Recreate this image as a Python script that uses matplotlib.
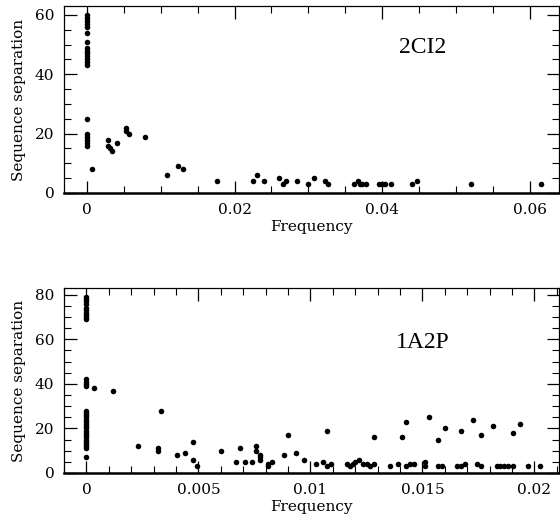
import matplotlib
matplotlib.use("Agg")
import matplotlib.pyplot as plt
from matplotlib.ticker import MultipleLocator, FuncFormatter

# 2CI2: contact frequency vs sequence separation
freq_2ci2 = [0.0] * 14 + [0.0] + [0.0] * 5 + [
    0.00076, 0.0029, 0.0029, 0.0032, 0.0034, 0.0041, 0.0053, 0.0053, 0.0057,
    0.0079, 0.0109, 0.0123, 0.0130, 0.0176, 0.0225, 0.0230, 0.0240, 0.0260,
    0.0265, 0.0270, 0.0284, 0.0300, 0.0308, 0.0323, 0.0326, 0.0362, 0.0367,
    0.0370, 0.0372, 0.0378, 0.0395, 0.0399, 0.0404, 0.0412, 0.0440, 0.0447,
    0.0520, 0.0614]
sep_2ci2 = [43, 44, 45, 46, 47, 48, 49, 51, 54, 56, 57, 58, 59, 60] + [25] + [16, 17, 18, 19, 20] + [
    8, 18, 16, 15, 14, 17, 22, 21, 20,
    19, 6, 9, 8, 4, 4, 6, 4, 5,
    3, 4, 4, 3, 5, 4, 3, 3, 4,
    3, 3, 3, 3, 3, 3, 3, 3, 4,
    3, 3]

# 1A2P: contact frequency vs sequence separation
sep_1a2p_zero = [69, 70, 71, 72, 73, 74, 76, 77, 78, 79,
                 39, 40, 41, 42,
                 11, 12, 13, 14, 15, 16, 17, 18, 19, 20, 21, 22, 23, 24, 25, 26, 27, 28,
                 7]
freq_1a2p_rest = [
    0.00034, 0.0012, 0.0023, 0.0032, 0.0032, 0.00334, 0.00406, 0.0044, 0.00476,
    0.00476, 0.00495, 0.00599, 0.0067, 0.00688, 0.00706, 0.0074, 0.00758, 0.00758,
    0.00776, 0.00776, 0.00776, 0.0081, 0.0081, 0.0083, 0.0088, 0.0090, 0.00934,
    0.0097, 0.01023, 0.01055, 0.01075, 0.01075, 0.0109, 0.01164, 0.01179, 0.01189,
    0.01197, 0.01216, 0.01234, 0.01252, 0.01267, 0.01286, 0.01286, 0.01357, 0.0139,
    0.0141, 0.01427, 0.01427, 0.01445, 0.01461, 0.01513, 0.01513, 0.01531, 0.01568,
    0.01568, 0.01586, 0.01603, 0.01655, 0.01673, 0.01673, 0.0169, 0.01725, 0.01742,
    0.01762, 0.01762, 0.01814, 0.01831, 0.01848, 0.01866, 0.01884, 0.01903, 0.01903,
    0.01937, 0.01973, 0.02026]
sep_1a2p_rest = [
    38, 37, 12, 11, 10, 28, 8, 9, 14,
    6, 3, 10, 5, 11, 5, 5, 12, 10,
    8, 7, 6, 4, 3, 5, 8, 17, 9,
    6, 4, 5, 19, 3, 4, 4, 3, 4,
    5, 6, 4, 4, 3, 4, 16, 3, 4,
    16, 23, 3, 4, 4, 5, 3, 25, 15,
    3, 3, 20, 3, 3, 19, 4, 24, 4,
    17, 3, 21, 3, 3, 3, 3, 3, 18,
    22, 3, 3]
freq_1a2p = [0.0] * len(sep_1a2p_zero) + freq_1a2p_rest
sep_1a2p = sep_1a2p_zero + sep_1a2p_rest

FONT = "DejaVu Serif"
plt.rcParams["font.family"] = FONT

fig = plt.figure(figsize=(5.6, 5.19), dpi=100)
ax1 = fig.add_axes([64 / 560, 1 - 193 / 519, 495 / 560, 187 / 519])
ax2 = fig.add_axes([64 / 560, 1 - 473 / 519, 495 / 560, 185 / 519])


def fmt(v, pos):
    if abs(v) < 1e-12:
        return "0"
    return ("%g" % v)


def style(ax, xmajor, xminor, ymajor, yminor):
    ax.xaxis.set_major_locator(MultipleLocator(xmajor))
    ax.xaxis.set_minor_locator(MultipleLocator(xminor))
    ax.yaxis.set_major_locator(MultipleLocator(ymajor))
    ax.yaxis.set_minor_locator(MultipleLocator(yminor))
    ax.xaxis.set_major_formatter(FuncFormatter(fmt))
    ax.tick_params(which="both", direction="in", top=True, right=True,
                   labelsize=11, color="black", pad=7)
    ax.tick_params(which="major", length=9, width=0.9)
    ax.tick_params(which="minor", length=5, width=0.8)
    for side in ("top", "left", "right"):
        ax.spines[side].set_linewidth(0.9)
    ax.spines["bottom"].set_linewidth(1.8)
    ax.set_xlabel("Frequency", fontsize=11, labelpad=2)
    ax.set_ylabel("Sequence separation", fontsize=11, labelpad=6)


ax1.scatter(freq_2ci2, sep_2ci2, s=16, color="black", linewidths=0)
ax1.set_xlim(-0.00307, 0.0639)
ax1.set_ylim(0, 63)
style(ax1, 0.02, 0.005, 20, 5)
ax1.text(0.0455, 49, "2CI2", fontsize=17, ha="center", va="center",
         family="Liberation Serif")

ax2.scatter(freq_1a2p, sep_1a2p, s=16, color="black", linewidths=0)
ax2.set_xlim(-0.001, 0.0211)
ax2.set_ylim(0, 83)
style(ax2, 0.005, 0.001, 20, 5)
ax2.text(0.0150, 58.5, "1A2P", fontsize=17, ha="center", va="center",
         family="Liberation Serif")

fig.savefig("out.png", dpi=100)
